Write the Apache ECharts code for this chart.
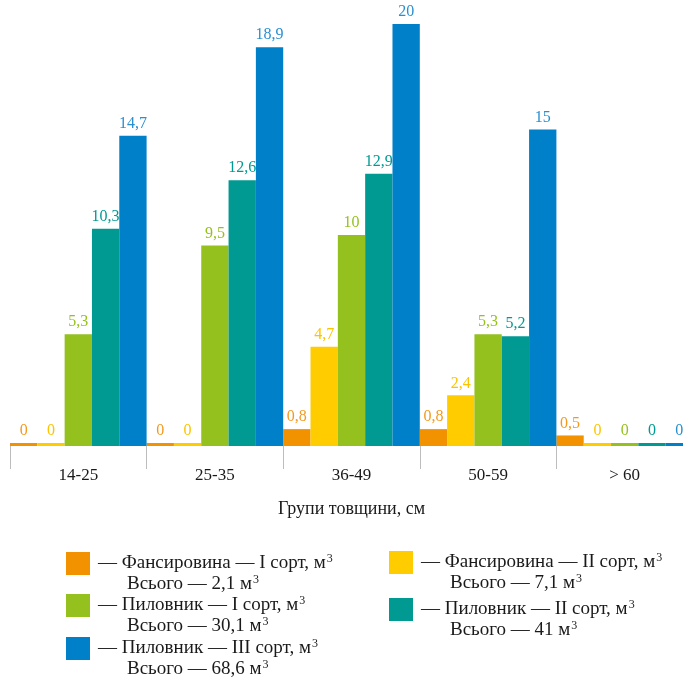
<!DOCTYPE html>
<html>
<head>
<meta charset="utf-8">
<script src="https://cdn.jsdelivr.net/npm/echarts@6/dist/echarts.min.js"></script>
<style>
  html, body { margin: 0; padding: 0; background: #fff; }
  #chart { width: 683px; height: 682px; }
</style>
</head>
<body>
<div id="chart"></div>
<script>
// Thickness groups (cm)
const categories = ['14-25', '25-35', '36-49', '50-59', '> 60'];

// Volumes per group, m³
const veneer1 = [0, 0, 0.8, 0.8, 0.5];      // Фансировина — I сорт
const veneer2 = [0, 0, 4.7, 2.4, 0];        // Фансировина — II сорт
const sawlog1 = [5.3, 9.5, 10, 5.3, 0];     // Пиловник — I сорт
const sawlog2 = [10.3, 12.6, 12.9, 5.2, 0]; // Пиловник — II сорт
const sawlog3 = [14.7, 18.9, 20, 15, 0];    // Пиловник — III сорт

// Legend titles and totals
const seriesNames = [
  'Фансировина — I сорт',
  'Фансировина — II сорт',
  'Пиловник — I сорт',
  'Пиловник — II сорт',
  'Пиловник — III сорт'
];
const totals = ['2,1', '7,1', '30,1', '41', '68,6'];

const colors = ['#f39200', '#ffcc00', '#95c11f', '#009a93', '#0080c9'];
const labelColors = ['#f39a1e', '#fcc400', '#95c11f', '#009a93', '#2a8fd0'];
const values = [veneer1, veneer2, sawlog1, sawlog2, sawlog3];

const serif = '"Liberation Serif", "DejaVu Serif", serif';
const fmt = v => String(v).replace('.', ',');

const series = values.map((data, i) => ({
  name: seriesNames[i],
  type: 'bar',
  data: data,
  barGap: '0%',
  barCategoryGap: '0%',
  barMinHeight: 3,
  itemStyle: { color: colors[i] },
  label: {
    show: true,
    position: 'top',
    distance: 4,
    color: labelColors[i],
    fontFamily: serif,
    fontSize: 16,
    formatter: p => fmt(p.value)
  }
}));

// One legend block per series so each entry can sit where it belongs
const legendPos = [
  { left: 66, top: 552 },
  { left: 389, top: 551 },
  { left: 66, top: 594 },
  { left: 389, top: 598 },
  { left: 66, top: 637 }
];
const legends = seriesNames.map((name, i) => ({
  data: [name],
  left: legendPos[i].left,
  top: legendPos[i].top,
  padding: 0,
  itemWidth: 24,
  itemHeight: 23,
  itemGap: 0,
  icon: 'rect',
  selectedMode: false,
  formatter: n => '{a|— ' + n + ', м}{s|3}\n{b|Всього — ' + totals[i] + ' м}{s|3}',
  textStyle: {
    fontFamily: serif,
    color: '#1a1a1a',
    padding: [21, 0, 0, 3],
    rich: {
      a: { fontFamily: serif, fontSize: 19, lineHeight: 21, color: '#1a1a1a' },
      b: { fontFamily: serif, fontSize: 19, lineHeight: 21, color: '#1a1a1a', padding: [0, 0, 0, 29] },
      s: { fontFamily: serif, fontSize: 12, lineHeight: 21, color: '#1a1a1a', verticalAlign: 'top', padding: [0, 0, 0, 1] }
    }
  }
}));

const chart = echarts.init(document.getElementById('chart'), null, { renderer: 'canvas' });
chart.setOption({
  animation: false,
  backgroundColor: '#ffffff',
  grid: { left: 10, top: 24, width: 683, bottom: 236, containLabel: false, outerBoundsMode: 'none' },
  xAxis: {
    type: 'category',
    data: categories,
    offset: 16,
    axisLine: { show: false },
    axisTick: { show: true, length: 23, lineStyle: { color: '#bdbdbd', width: 1 } },
    axisLabel: { margin: 5, color: '#1a1a1a', fontFamily: serif, fontSize: 17 },
    name: 'Групи товщини, см',
    nameLocation: 'middle',
    nameGap: 38,
    nameTextStyle: { color: '#1a1a1a', fontFamily: serif, fontSize: 18 }
  },
  yAxis: {
    type: 'value',
    min: 0,
    max: 20,
    show: false
  },
  legend: legends,
  series: series
});
</script>
</body>
</html>
